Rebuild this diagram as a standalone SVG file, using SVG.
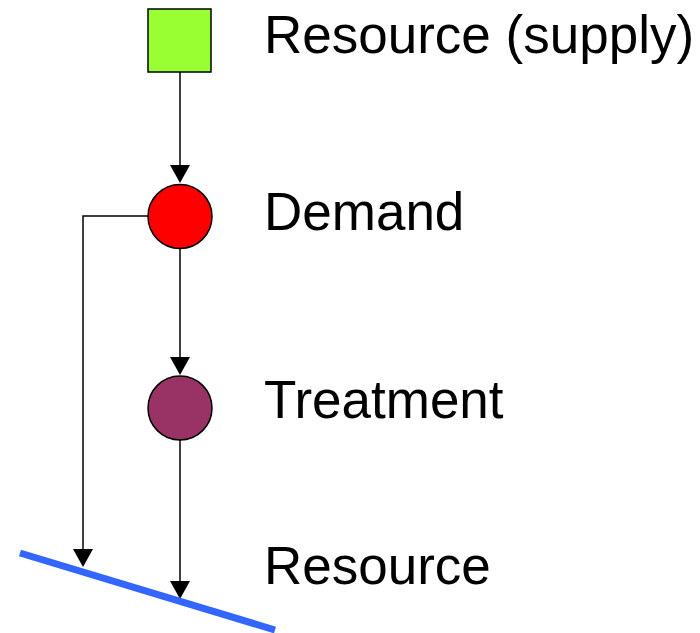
<svg xmlns="http://www.w3.org/2000/svg" width="700" height="633" viewBox="0 0 700 633">
<defs>
<style>
.lbl{font-family:"Liberation Sans",Arial,sans-serif;font-size:53px;fill:#000}
.node{stroke:#000;stroke-width:1.5}
.conn{fill:none;stroke:#000;stroke-width:1.5}
.head{fill:#000}
</style>
</defs>
<rect width="700" height="633" fill="#fff"/>
<g id="connectors">
<path class="conn" d="M180,72 V166"/>
<path class="head" d="M170,165 L190,165 L180,183 Z"/>
<path class="conn" d="M180,249 V358"/>
<path class="head" d="M170,357 L190,357 L180,375 Z"/>
<path class="conn" d="M148,216 H83 V550"/>
<path class="head" d="M73,549 L93,549 L83,567 Z"/>
<path class="conn" d="M180,440 V582"/>
<path class="head" d="M170,581 L190,581 L180,599 Z"/>
</g>
<g id="resource-supply">
<rect class="node" x="148" y="9" width="63" height="63" fill="#99FF33"/>
<text class="lbl" x="264" y="53">Resource (supply)</text>
</g>
<g id="demand">
<circle class="node" cx="180" cy="216.5" r="32" fill="#FF0000"/>
<text class="lbl" x="264" y="230">Demand</text>
</g>
<g id="treatment">
<circle class="node" cx="180" cy="408" r="32" fill="#993366"/>
<text class="lbl" x="264" y="418">Treatment</text>
</g>
<g id="resource">
<line x1="20" y1="553" x2="275" y2="630" stroke="#3366FF" stroke-width="7"/>
<text class="lbl" x="264" y="584">Resource</text>
</g>
</svg>
